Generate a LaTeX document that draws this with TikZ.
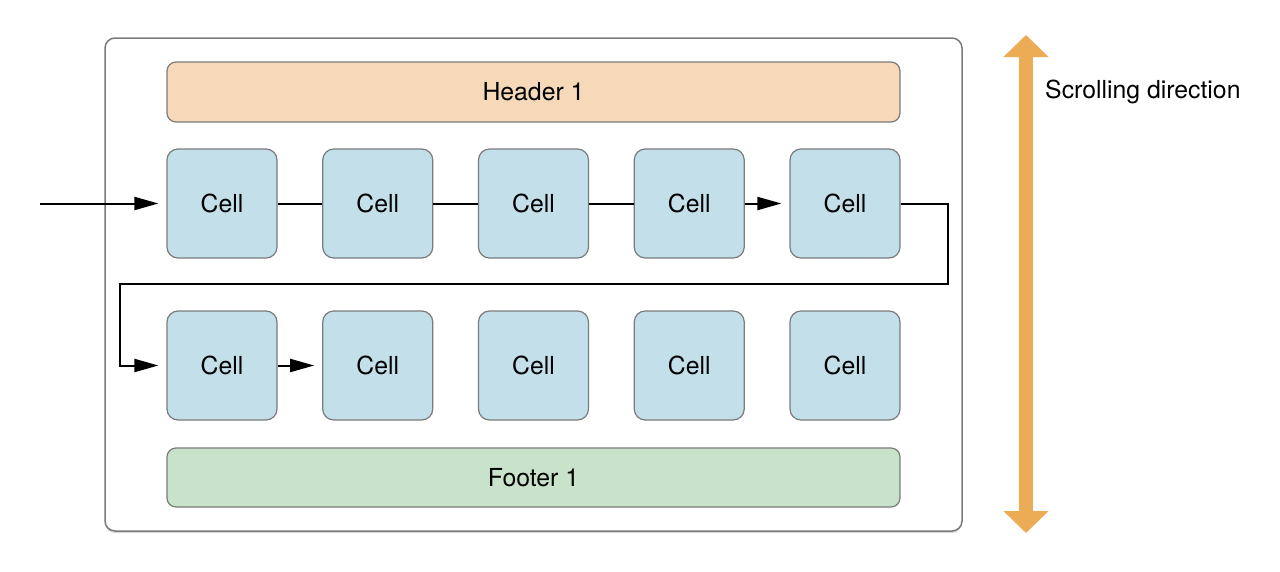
\documentclass[tikz,border=0pt]{standalone}
\usepackage{fontspec}
\setmainfont{TeX Gyre Heros}
\usetikzlibrary{arrows.meta,shadows}
\definecolor{framecolor}{HTML}{7B7B7B}
\definecolor{headercolor}{HTML}{F6D9B9}
\definecolor{cellcolor}{HTML}{C3DFEA}
\definecolor{footercolor}{HTML}{C9E2CA}
\definecolor{scrollcolor}{HTML}{ECAB55}
\tikzset{
  cv frame/.style={draw=framecolor,line width=1.5pt,rounded corners=10pt,fill=white,
    drop shadow={shadow xshift=0pt,shadow yshift=-2pt,opacity=.3,fill=gray}},
  cv bar/.style={draw=framecolor,line width=1.2pt,rounded corners=9pt,
    minimum width=733pt,minimum height=60pt,inner sep=0pt},
  cv cell/.style={draw=framecolor,line width=1.2pt,rounded corners=11pt,fill=cellcolor,
    minimum width=110pt,minimum height=109pt,inner sep=0pt},
  cv line/.style={line width=2pt},
  cv arrow/.style={line width=2pt,-{Triangle[length=24pt,width=13pt]},shorten >=8pt},
  cv scroll/.style={scrollcolor,line width=14pt,
    {Triangle[length=22pt,width=44pt]}-{Triangle[length=22pt,width=44pt]}}
}

\begin{document}
\begin{tikzpicture}[x=1pt,y=-1pt,font=\fontsize{24.8}{30}\selectfont]
  \useasboundingbox (0,0) rectangle (1280,571);
  \node[cv frame,minimum width=857pt,minimum height=493pt] (frame) at (533.5,284.5) {};
  \node[cv bar,fill=headercolor] (header) at (533.5,92) {Header 1};
  \node[cv bar,fill=footercolor,minimum height=59pt] (footer) at (533.5,477.5) {Footer 1};
  \foreach \i [evaluate=\i as \x using 222+155.75*(\i-1)] in {1,...,5}{
    \node[cv cell] (c\i) at (\x,203.5) {Cell};
    \node[cv cell] (d\i) at (\x,365.5) {Cell};
  }
  % path through the cells
  \coordinate (start) at (40,203.5);
  \coordinate (turnA) at (948,284);
  \coordinate (turnB) at (120,284);
  \draw[cv arrow] (start) -- (c1.west);
  \foreach \a/\b in {1/2,2/3,3/4}{\draw[cv line] (c\a.east) -- (c\b.west);}
  \draw[cv arrow] (c4.east) -- (c5.west);
  \draw[cv arrow] (c5.east) -| (turnA) -- (turnB) |- (d1.west);
  \draw[cv arrow] (d1.east) -- (d2.west);
  % scrolling
  \coordinate (scrolltop) at (1026,35);
  \coordinate (scrollbot) at (1026,533);
  \draw[cv scroll] (scrollbot) -- (scrolltop);
  \node[anchor=west,inner sep=0pt] (scrolltext) at (1045,92) {Scrolling direction};
\end{tikzpicture}
\end{document}
